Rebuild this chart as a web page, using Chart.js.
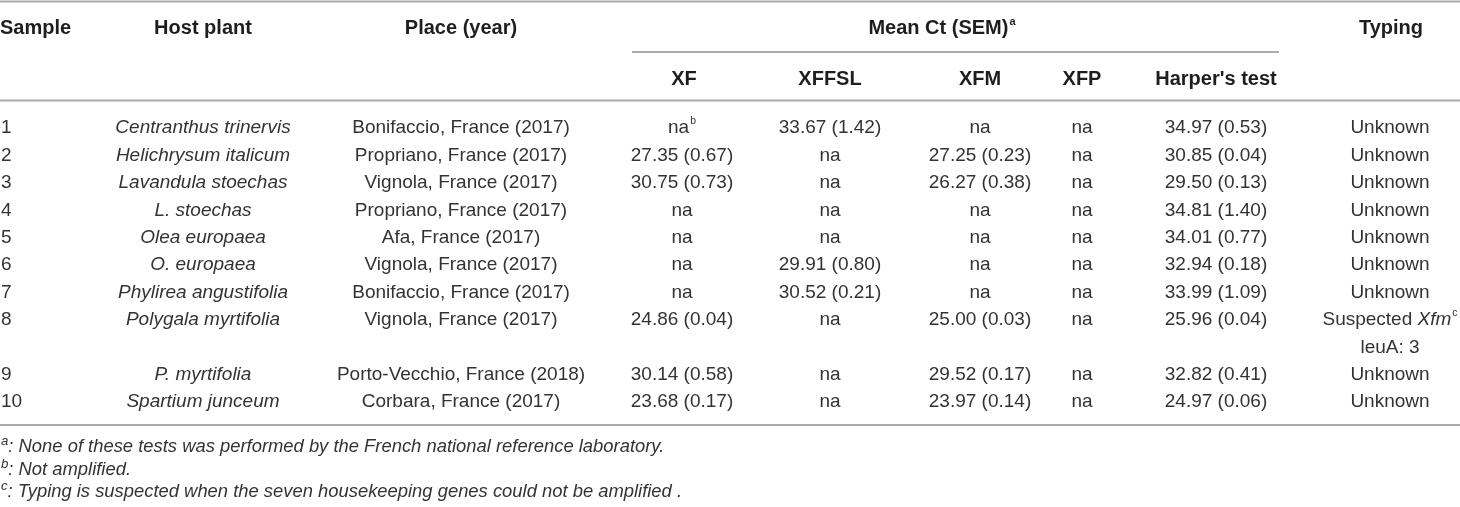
<!DOCTYPE html>
<html>
<head>
<meta charset="utf-8">
<script src="https://cdn.jsdelivr.net/npm/chart.js@4.4.1/dist/chart.umd.min.js"></script>
<style>
  html, body { margin: 0; padding: 0; background: #ffffff; }
  #wrap { width: 1460px; height: 507px; position: relative; }
</style>
</head>
<body>
<div id="wrap"><canvas id="tbl"></canvas></div>
<script>
// ---------------- DATA ----------------
const headerTop = ["Sample", "Host plant", "Place (year)", "Mean Ct (SEM)^a", "Typing"];
const headerSub = ["XF", "XFFSL", "XFM", "XFP", "Harper's test"];

const samples = ["1", "2", "3", "4", "5", "6", "7", "8", "9", "10"];
const hostPlants = ["Centranthus trinervis", "Helichrysum italicum", "Lavandula stoechas", "L. stoechas",
  "Olea europaea", "O. europaea", "Phylirea angustifolia", "Polygala myrtifolia", "P. myrtifolia", "Spartium junceum"];
const places = ["Bonifaccio, France (2017)", "Propriano, France (2017)", "Vignola, France (2017)",
  "Propriano, France (2017)", "Afa, France (2017)", "Vignola, France (2017)", "Bonifaccio, France (2017)",
  "Vignola, France (2017)", "Porto-Vecchio, France (2018)", "Corbara, France (2017)"];
const xfValues = ["na^b", "27.35 (0.67)", "30.75 (0.73)", "na", "na", "na", "na", "24.86 (0.04)", "30.14 (0.58)", "23.68 (0.17)"];
const xffslValues = ["33.67 (1.42)", "na", "na", "na", "na", "29.91 (0.80)", "30.52 (0.21)", "na", "na", "na"];
const xfmValues = ["na", "27.25 (0.23)", "26.27 (0.38)", "na", "na", "na", "na", "25.00 (0.03)", "29.52 (0.17)", "23.97 (0.14)"];
const xfpValues = ["na", "na", "na", "na", "na", "na", "na", "na", "na", "na"];
const harperValues = ["34.97 (0.53)", "30.85 (0.04)", "29.50 (0.13)", "34.81 (1.40)", "34.01 (0.77)",
  "32.94 (0.18)", "33.99 (1.09)", "25.96 (0.04)", "32.82 (0.41)", "24.97 (0.06)"];
const typingValues = ["Unknown", "Unknown", "Unknown", "Unknown", "Unknown", "Unknown", "Unknown",
  "Suspected *Xfm*^c|leuA: 3", "Unknown", "Unknown"];
const footnotes = [
  "^a: None of these tests was performed by the French national reference laboratory.",
  "^b: Not amplified.",
  "^c: Typing is suspected when the seven housekeeping genes could not be amplified ."
];

// ---------------- LAYOUT / STYLE ----------------
const W = 1460, H = 507;
const FONT = "'Liberation Sans', Arial, Helvetica, sans-serif";
const BODY_SIZE = 19, HEAD_SIZE = 20, NOTE_SIZE = 18.4;
const TEXT_COLOR = "#333333", HEAD_COLOR = "#1e1e1e", RULE_COLOR = "#ababab";
const FIRST_ROW_Y = 126.5, ROW_STEP = 27.4;
const HEAD1_Y = 27, HEAD2_Y = 78;
const NOTE_Y0 = 445.5, NOTE_STEP = 22.5;
const RULES = [
  { y: 1.5, x0: 0, x1: W },
  { y: 52, x0: 632, x1: 1279 },
  { y: 100.5, x0: 0, x1: W },
  { y: 425, x0: 0, x1: W }
];
const columns = [
  { values: samples, x: 1, align: "left", italic: false },
  { values: hostPlants, x: 203, align: "center", italic: true },
  { values: places, x: 461, align: "center", italic: false },
  { values: xfValues, x: 682, align: "center", italic: false },
  { values: xffslValues, x: 830, align: "center", italic: false },
  { values: xfmValues, x: 980, align: "center", italic: false },
  { values: xfpValues, x: 1082, align: "center", italic: false },
  { values: harperValues, x: 1216, align: "center", italic: false },
  { values: typingValues, x: 1390, align: "center", italic: false }
];
const headTopPos = [
  { x: 0, align: "left" }, { x: 203, align: "center" }, { x: 461, align: "center" },
  { x: 942, align: "center" }, { x: 1391, align: "center" }
];
const headSubPos = [684, 830, 980, 1082, 1216];
const SUP_BODY = { scale: 0.55, rise: 0.48 };
const SUP_NOTE = { scale: 0.72, rise: 0.36 };

// line index of each row (row 8 spans two lines)
const rowLine = [];
(function () {
  let line = 0;
  for (let r = 0; r < samples.length; r++) {
    rowLine.push(line);
    let n = 1;
    columns.forEach(c => { n = Math.max(n, String(c.values[r]).split("|").length); });
    line += n;
  }
})();

const datasets = columns.map((c, ci) => ({
  label: "col" + ci,
  data: c.values.map((v, r) => ({ x: c.x, y: FIRST_ROW_Y + rowLine[r] * ROW_STEP, t: v })),
  pointRadius: 0,
  pointHoverRadius: 0,
  showLine: false,
  clip: false,
  _align: c.align,
  _italic: c.italic
}));

// --------------- rich text helpers ---------------
function parseRich(str, baseItalic) {
  const segs = [];
  let italic = baseItalic, buf = "";
  const push = (sup) => { if (buf) { segs.push({ text: buf, italic, sup: !!sup }); buf = ""; } };
  for (let i = 0; i < str.length; i++) {
    const ch = str[i];
    if (ch === "*") { push(); italic = !italic; }
    else if (ch === "^") { push(); buf = str[i + 1]; push(true); i++; }
    else buf += ch;
  }
  push();
  return segs;
}
function fontFor(seg, size, weight, sup) {
  const s = seg.sup ? size * sup.scale : size;
  return (seg.italic ? "italic " : "") + weight + " " + s + "px " + FONT;
}
function drawRich(ctx, str, x, yCenter, align, size, weight, baseItalic, color, sup) {
  sup = sup || SUP_BODY;
  const segs = parseRich(str, baseItalic);
  let total = 0;
  segs.forEach(s => { ctx.font = fontFor(s, size, weight, sup); s.w = ctx.measureText(s.text).width; total += s.w + (s.sup ? 1 : 0); });
  let cx = align === "center" ? x - total / 2 : (align === "right" ? x - total : x);
  const base = yCenter + size * 0.358;
  ctx.fillStyle = color;
  ctx.textAlign = "left";
  ctx.textBaseline = "alphabetic";
  segs.forEach(s => {
    ctx.font = fontFor(s, size, weight, sup);
    if (s.sup) { ctx.fillText(s.text, cx + 1, base - size * sup.rise); cx += s.w + 1; }
    else { ctx.fillText(s.text, cx, base); cx += s.w; }
  });
}

const tablePlugin = {
  id: "tablePlugin",
  afterDatasetsDraw(chart) {
    const ctx = chart.ctx;
    const xs = chart.scales.x, ys = chart.scales.y;
    ctx.save();
    // rules
    ctx.strokeStyle = RULE_COLOR;
    ctx.lineWidth = 2;
    RULES.forEach(r => {
      const py = ys.getPixelForValue(r.y);
      ctx.beginPath();
      ctx.moveTo(xs.getPixelForValue(r.x0), py);
      ctx.lineTo(xs.getPixelForValue(r.x1), py);
      ctx.stroke();
    });
    // headers
    headerTop.forEach((h, i) => {
      drawRich(ctx, h, xs.getPixelForValue(headTopPos[i].x), ys.getPixelForValue(HEAD1_Y),
        headTopPos[i].align, HEAD_SIZE, "bold", false, HEAD_COLOR);
    });
    headerSub.forEach((h, i) => {
      drawRich(ctx, h, xs.getPixelForValue(headSubPos[i]), ys.getPixelForValue(HEAD2_Y),
        "center", HEAD_SIZE, "bold", false, HEAD_COLOR);
    });
    // cells
    const stepPx = ys.getPixelForValue(ROW_STEP) - ys.getPixelForValue(0);
    chart.data.datasets.forEach((ds, di) => {
      const meta = chart.getDatasetMeta(di);
      meta.data.forEach((el, i) => {
        const lines = String(ds.data[i].t).split("|");
        lines.forEach((ln, li) => {
          drawRich(ctx, ln, el.x, el.y + li * stepPx, ds._align, BODY_SIZE, "normal", ds._italic, TEXT_COLOR);
        });
      });
    });
    // footnotes
    footnotes.forEach((f, i) => {
      drawRich(ctx, f, xs.getPixelForValue(0), ys.getPixelForValue(NOTE_Y0 + i * NOTE_STEP),
        "left", NOTE_SIZE, "normal", true, TEXT_COLOR, SUP_NOTE);
    });
    ctx.restore();
  }
};

new Chart(document.getElementById("tbl"), {
  type: "scatter",
  data: { datasets },
  options: {
    responsive: true,
    maintainAspectRatio: false,
    animation: false,
    events: [],
    layout: { padding: 0 },
    plugins: { legend: { display: false }, tooltip: { enabled: false } },
    scales: {
      x: { type: "linear", min: 0, max: W, display: false },
      y: { type: "linear", min: 0, max: H, reverse: true, display: false }
    }
  },
  plugins: [tablePlugin]
});
</script>
</body>
</html>
